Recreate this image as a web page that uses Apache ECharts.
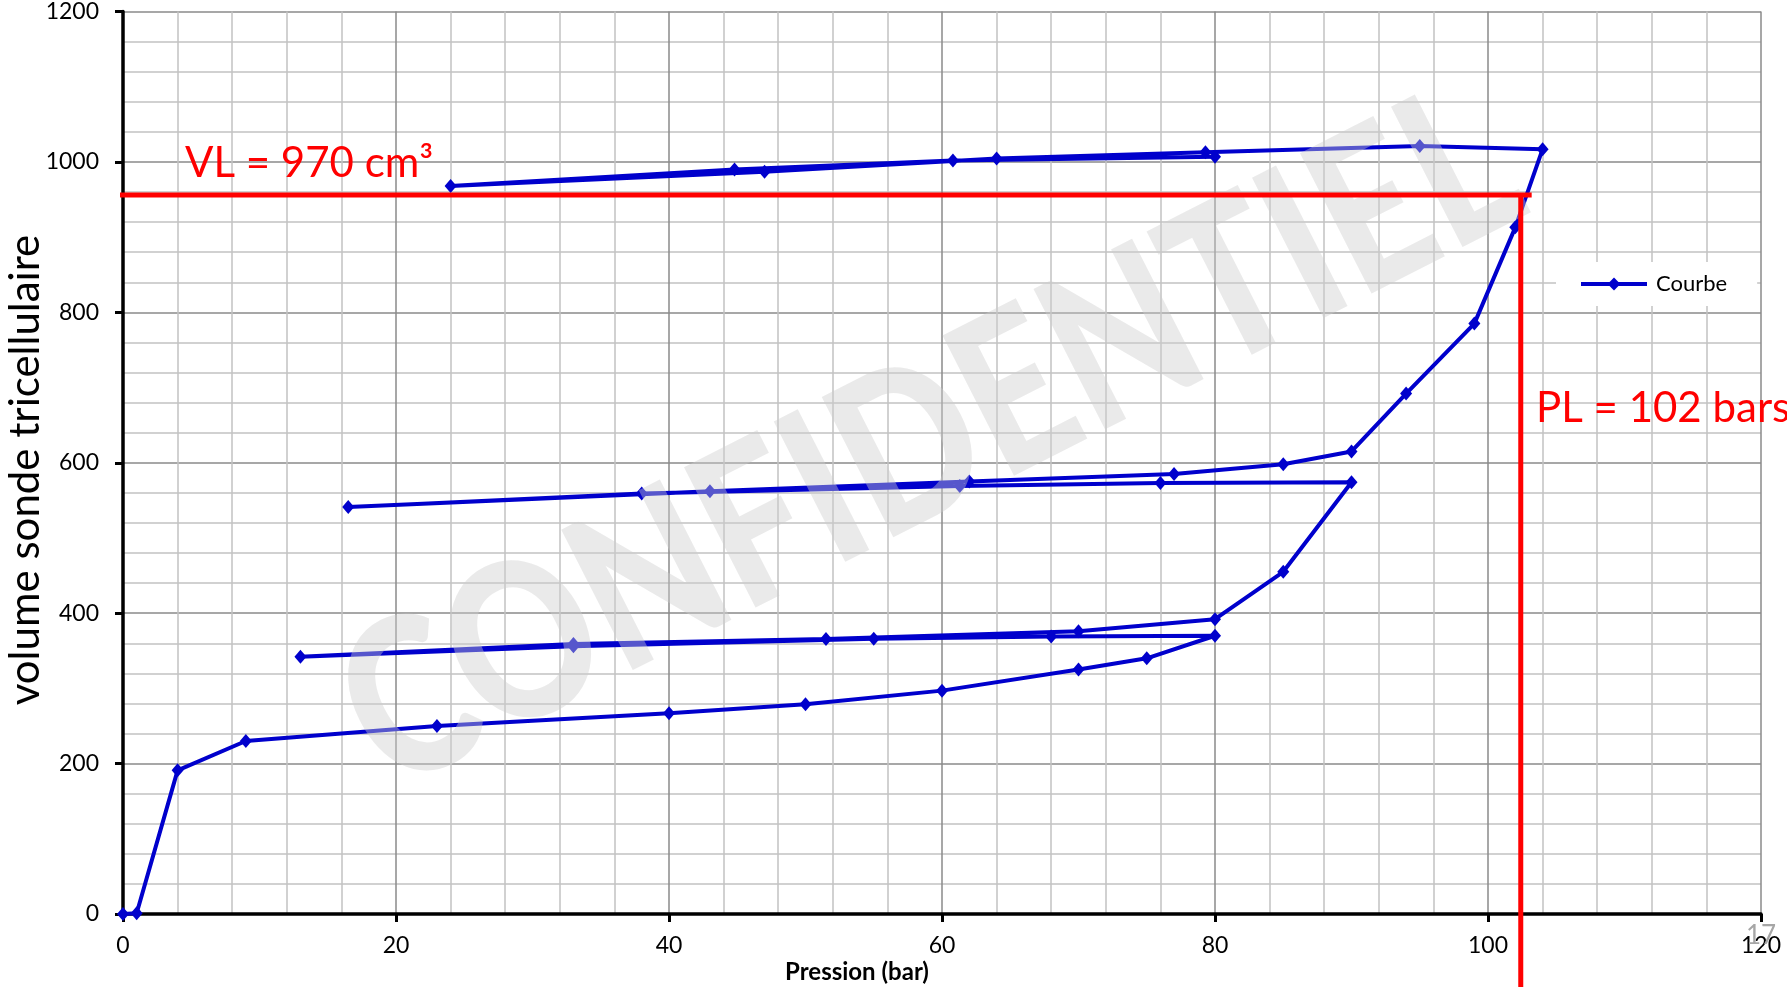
<!DOCTYPE html>
<html>
<head>
<meta charset="utf-8">
<script src="https://cdn.jsdelivr.net/npm/echarts@6/dist/echarts.min.js"></script>
<style>
html,body{margin:0;padding:0;background:#fff;}
#chart{width:1787px;height:987px;}
</style>
</head>
<body>
<div id="chart"></div>
<script>
// Pressuremeter curve: pressure (bar) and probe volume (cm3), in test order
const pressure = [0, 1, 4, 9, 23, 40, 50, 60, 70, 75, 80,
                  68, 55, 33, 13, 33, 51.5, 70, 80, 85, 90,
                  76, 61.3, 38, 16.5, 43, 62, 77, 85, 90, 94, 99, 102, 104,
                  95, 79.3, 64, 47, 24, 44.8, 60.8, 80];
const volume   = [0, 1, 191, 230, 250, 267, 279, 297, 325, 340, 370,
                  369, 366, 356, 342, 359, 365.5, 376, 392, 455, 574,
                  573, 569, 559, 541, 562, 575, 585, 598, 615, 692, 785, 913, 1017,
                  1021, 1013, 1004.5, 987, 968, 990, 1002, 1007];
const seriesName = 'Courbe';

// Annotation lines (data coordinates)
const vlLineX = [-5.8, 103.2];
const vlLineY = [956, 956];
const plLineX = [102.4, 102.4];
const plLineY = [956, -97];

// Axis settings
const xMin = 0, xMax = 120, xStep = 20;
const yMin = 0, yMax = 1200, yStep = 200;

const textVL = 'VL = 970 cm³';
const textPL = 'PL = 102 bars';
const yTitle = 'volume sonde tricellulaire';
const xTitle = 'Pression (bar)';
const watermark = 'CONFIDENTIEL';
const pageNo = '17';

const FONT = 'Lato';
const curveData = pressure.map((p, i) => [p, volume[i]]);
const zip = (a, b) => a.map((v, i) => [v, b[i]]);

const chart = echarts.init(document.getElementById('chart'), null, {renderer: 'canvas'});

const axisCommon = {
  type: 'value',
  axisLine: {show: true, onZero: false, lineStyle: {color: '#000', width: 3.5}},
  axisTick: {show: true, length: 8, lineStyle: {color: '#000', width: 3}},
  splitLine: {show: true, lineStyle: {color: '#8a8a8a', width: 1.5}},
  minorTick: {show: false, splitNumber: 5},
  minorSplitLine: {show: true, lineStyle: {color: '#c2c2c2', width: 1.5}},
  axisLabel: {color: '#000', fontFamily: FONT, fontSize: 23, formatter: v => String(v)}
};

chart.setOption({
  animation: false,
  backgroundColor: '#fff',
  grid: {left: 123, right: 26, top: 11, bottom: 73, containLabel: false},
  xAxis: Object.assign({}, axisCommon, {
    min: xMin, max: xMax, interval: xStep,
    axisLabel: Object.assign({}, axisCommon.axisLabel, {margin: 20})
  }),
  yAxis: Object.assign({}, axisCommon, {
    min: yMin, max: yMax, interval: yStep,
    axisLabel: Object.assign({}, axisCommon.axisLabel, {margin: 24})
  }),
  legend: {
    data: [seriesName],
    left: 1556, top: 262,
    padding: [11, 30, 11, 23],
    backgroundColor: '#fff',
    itemWidth: 66, itemHeight: 16,
    lineStyle: {width: 4},
    textStyle: {color: '#000', fontFamily: FONT, fontSize: 22, padding: [0, 0, 0, 4]}
  },
  series: [
    {
      name: seriesName, type: 'line', data: curveData, z: 5,
      symbol: 'diamond', symbolSize: [12, 14],
      lineStyle: {color: '#0000CC', width: 4},
      itemStyle: {color: '#0000CC'}
    },
    {
      name: 'VL', type: 'line', data: zip(vlLineX, vlLineY), clip: false, z: 20,
      symbol: 'none', silent: true, lineStyle: {color: '#FF0000', width: 5}
    },
    {
      name: 'PL', type: 'line', data: zip(plLineX, plLineY), clip: false, z: 20,
      symbol: 'none', silent: true, lineStyle: {color: '#FF0000', width: 5}
    }
  ],
  graphic: [
    {
      type: 'text', z: 10, x: 930, y: 440, rotation: 27 * Math.PI / 180, scaleY: 1.22, silent: true,
      style: {text: watermark, font: '900 178px ' + FONT, fill: 'rgba(205,205,205,0.42)',
              align: 'center', verticalAlign: 'middle'}
    },
    {
      type: 'text', z: 30, x: 185, y: 163, silent: true,
      style: {text: textVL, font: '42px ' + FONT, fill: '#FF0000', align: 'left', verticalAlign: 'middle'}
    },
    {
      type: 'text', z: 30, x: 1536, y: 408, silent: true,
      style: {text: textPL, font: '42px ' + FONT, fill: '#FF0000', align: 'left', verticalAlign: 'middle'}
    },
    {
      type: 'text', z: 30, x: 25, y: 470, rotation: Math.PI / 2, silent: true,
      style: {text: yTitle, font: '42px ' + FONT, fill: '#000', align: 'center', verticalAlign: 'middle'}
    },
    {
      type: 'text', z: 30, x: 857, y: 972, silent: true,
      style: {text: xTitle, font: 'bold 24px ' + FONT, fill: '#000', align: 'center', verticalAlign: 'middle'}
    },
    {
      type: 'text', z: 30, x: 1761, y: 936, silent: true,
      style: {text: pageNo, font: '26px ' + FONT, fill: '#a6a6a6', align: 'center', verticalAlign: 'middle'}
    }
  ]
});
</script>
</body>
</html>
